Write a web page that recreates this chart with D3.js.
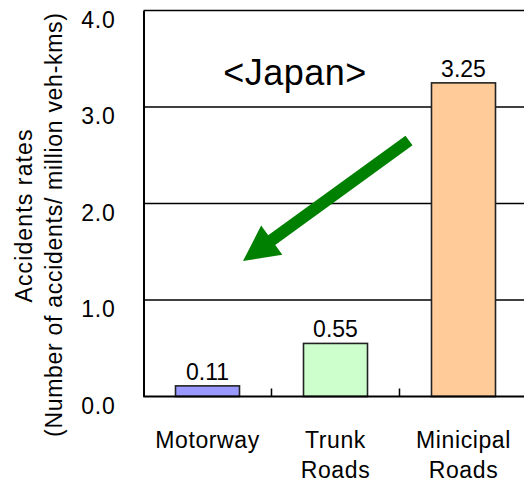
<!DOCTYPE html>
<html>
<head>
<meta charset="utf-8">
<script src="https://cdn.jsdelivr.net/npm/d3@7/dist/d3.min.js"></script>
<style>
  html, body { margin: 0; padding: 0; background: #fff; }
  svg { display: block; font-family: "Liberation Sans", Arial, sans-serif; }
</style>
</head>
<body>
<svg id="chart" width="524" height="482"></svg>
<script>
// Accident rates by road type, Japan
const categories = ["Motorway", "Trunk Roads", "Minicipal Roads"];
const categoryLines = [["Motorway"], ["Trunk", "Roads"], ["Minicipal", "Roads"]];
const rates = [0.11, 0.55, 3.25];
const barColors = ["#9999ff", "#ccffcc", "#ffcc99"];
const yTicks = [0, 1, 2, 3, 4];
const titleText = "<Japan>";
const yTitleLines = ["Accidents rates", "(Number of accidents/ million veh-kms)"];

const svg = d3.select("#chart");
const plot = { left: 143.5, right: 527.5, top: 10.5, bottom: 396.5 };

const x = d3.scaleBand()
  .domain(categories)
  .range([plot.left, plot.right])
  .paddingInner(0.5)
  .paddingOuter(0.25);

const y = d3.scaleLinear().domain([0, 4]).range([plot.bottom, plot.top]);

// horizontal gridlines (the top one doubles as the frame edge)
svg.append("g").selectAll("line")
  .data(yTicks.filter(d => d > 0))
  .join("line")
  .attr("x1", plot.left).attr("x2", plot.right)
  .attr("y1", d => y(d)).attr("y2", d => y(d))
  .attr("stroke", "#000").attr("stroke-width", 1.6);

// y axis: line plus labels sitting just below each gridline
const yAxis = d3.axisLeft(y).tickValues(yTicks).tickFormat(d3.format(".1f")).tickSize(0).tickPadding(28);
const gy = svg.append("g").attr("transform", `translate(${plot.left},0)`).call(yAxis);
gy.select(".domain").attr("stroke", "#000").attr("stroke-width", 2);
gy.selectAll("text")
  .attr("font-size", 23).attr("fill", "#000")
  .attr("letter-spacing", 0.8)
  .attr("font-family", "'Liberation Sans', Arial, sans-serif")
  .attr("dy", "0.73em");

// bars
svg.append("g").selectAll("rect")
  .data(rates)
  .join("rect")
  .attr("x", (d, i) => x(categories[i]))
  .attr("width", x.bandwidth())
  .attr("y", d => y(d))
  .attr("height", d => y(0) - y(d))
  .attr("fill", (d, i) => barColors[i])
  .attr("stroke", "#222").attr("stroke-width", 1.6);

// value labels
svg.append("g").selectAll("text")
  .data(rates)
  .join("text")
  .attr("x", (d, i) => x(categories[i]) + x.bandwidth() / 2)
  .attr("y", d => y(d) - 6)
  .attr("text-anchor", "middle")
  .attr("font-size", 23)
  .text(d => d.toFixed(2));

// x axis baseline with inward tick marks between categories
svg.append("line")
  .attr("x1", plot.left).attr("x2", plot.right)
  .attr("y1", plot.bottom).attr("y2", plot.bottom)
  .attr("stroke", "#000").attr("stroke-width", 2);
const step = x.step();
svg.append("g").selectAll("line")
  .data(categories.slice(1))
  .join("line")
  .attr("x1", d => x(d) - (step - x.bandwidth()) / 2)
  .attr("x2", d => x(d) - (step - x.bandwidth()) / 2)
  .attr("y1", plot.bottom).attr("y2", plot.bottom - 8)
  .attr("stroke", "#000").attr("stroke-width", 1.5);

// category labels
const cat = svg.append("g").selectAll("text")
  .data(categories)
  .join("text")
  .attr("x", d => x(d) + x.bandwidth() / 2)
  .attr("y", 448)
  .attr("text-anchor", "middle")
  .attr("font-size", 23)
  .attr("letter-spacing", 0.6);
cat.selectAll("tspan")
  .data((d, i) => categoryLines[i])
  .join("tspan")
  .attr("x", function () { return this.parentNode.getAttribute("x"); })
  .attr("dy", (d, j) => j === 0 ? 0 : 30)
  .text(d => d);

// title
svg.append("text")
  .attr("x", 295).attr("y", 85)
  .attr("text-anchor", "middle")
  .attr("font-size", 36)
  .attr("letter-spacing", 0.5)
  .text(titleText);

// y axis title, two rotated lines
const yTitleLen = [173, 424];
svg.append("g").selectAll("text")
  .data(yTitleLines)
  .join("text")
  .attr("transform", (d, i) => `translate(${[32, 62][i]},${[216, 225][i]}) rotate(-90)`)
  .attr("text-anchor", "middle")
  .attr("font-size", 23)
  .attr("textLength", (d, i) => yTitleLen[i])
  .attr("lengthAdjust", "spacing")
  .text(d => d);

// green trend arrow pointing down-left
const tail = [409, 140.5], tip = [243, 261];
const dx = tip[0] - tail[0], dy = tip[1] - tail[1];
const len = Math.hypot(dx, dy);
const ux = dx / len, uy = dy / len, nx = -uy, ny = ux;
const shaftHalf = 6, headHalf = 18, headLen = 35.5;
const bx = tip[0] - ux * headLen, by = tip[1] - uy * headLen;
const pts = [
  [tail[0] + nx * shaftHalf, tail[1] + ny * shaftHalf],
  [bx + nx * shaftHalf, by + ny * shaftHalf],
  [bx + nx * headHalf, by + ny * headHalf],
  tip,
  [bx - nx * headHalf, by - ny * headHalf],
  [bx - nx * shaftHalf, by - ny * shaftHalf],
  [tail[0] - nx * shaftHalf, tail[1] - ny * shaftHalf]
];
svg.append("path")
  .attr("d", d3.line()(pts) + "Z")
  .attr("fill", "#008000");
</script>
</body>
</html>
